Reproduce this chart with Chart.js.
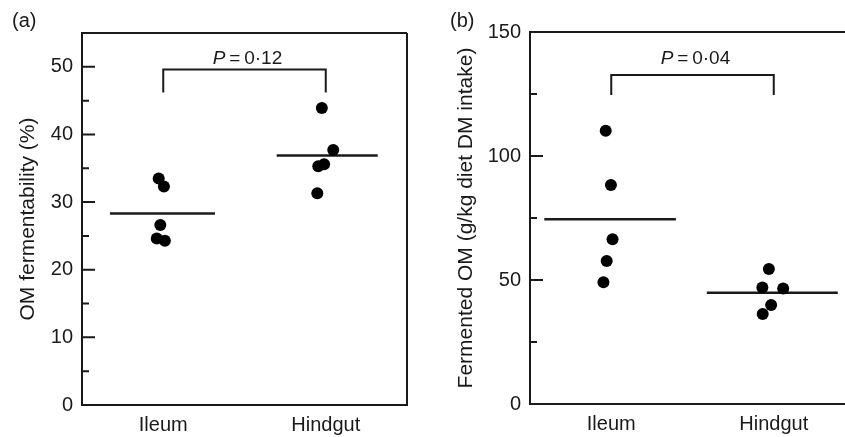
<!DOCTYPE html>
<html>
<head>
<meta charset="utf-8">
<script src="https://cdn.jsdelivr.net/npm/chart.js@4.4.1/dist/chart.umd.min.js"></script>
<style>
  html, body { margin: 0; padding: 0; background: #fff; overflow: hidden; }
  #wrap { position: relative; width: 845px; height: 437px; overflow: hidden; }
  canvas { position: absolute; top: 0; }
  #chartA { left: 0; }
  #chartB { left: 420px; }
</style>
</head>
<body>
<div id="wrap">
  <canvas id="chartA" width="420" height="437"></canvas>
  <canvas id="chartB" width="445" height="437"></canvas>
</div>
<script>
const categories = ["Ileum", "Hindgut"];
const categoryX = [0.25, 0.75];

// (a) OM fermentability (%)
const fermIleumX = [0.236, 0.252, 0.241, 0.230, 0.255];
const fermIleumY = [33.5, 32.3, 26.6, 24.6, 24.3];
const fermHindgutX = [0.738, 0.773, 0.727, 0.745, 0.724];
const fermHindgutY = [43.9, 37.7, 35.3, 35.6, 31.3];
const fermMeans = [28.3, 36.9];
const fermMeanSpan = [[0.086, 0.409], [0.599, 0.910]];
const fermBracket = [46.2, 49.6];
const fermP = "0·12";
const fermPY = 51.2;

// (b) Fermented OM (g/kg diet DM intake)
const omIleumX = [0.233, 0.249, 0.254, 0.236, 0.226];
const omIleumY = [110.2, 88.3, 66.4, 57.7, 49.1];
const omHindgutX = [0.735, 0.715, 0.779, 0.742, 0.716];
const omHindgutY = [54.4, 47.0, 46.6, 39.9, 36.3];
const omMeans = [74.5, 44.9];
const omMeanSpan = [[0.044, 0.449], [0.544, 0.947]];
const omBracket = [124.6, 132.7];
const omP = "0·04";
const omPY = 139.3;

const ink = "#1a1a1a";
const fontFamily = "'Liberation Sans', Arial, Helvetica, sans-serif";

// frame, inward ticks, P label and panel letter
const framePlugin = {
    id: "frame",
    afterDraw(chart, args, o) {
        const { ctx, chartArea: a, scales: { x, y } } = chart;
        ctx.save();
        ctx.strokeStyle = ink;
        ctx.lineWidth = 2;
        ctx.beginPath();
        ctx.moveTo(a.right, a.top);
        ctx.lineTo(a.left, a.top);
        ctx.lineTo(a.left, a.bottom);
        ctx.lineTo(a.right, a.bottom);
        ctx.lineTo(a.right, a.top);
        y.ticks.forEach(t => {
            if (t.value >= y.max || t.value <= y.min) return;
            const py = y.getPixelForValue(t.value);
            const len = t.value % o.major === 0 ? 13 : 7;
            ctx.moveTo(a.left, py);
            ctx.lineTo(a.left + len, py);
        });
        ctx.stroke();

        // P = value, centred over the bracket
        ctx.fillStyle = ink;
        ctx.textBaseline = "middle";
        const cx = x.getPixelForValue((categoryX[0] + categoryX[1]) / 2) + 3;
        const cy = y.getPixelForValue(o.pY);
        const italic = "italic 19px " + fontFamily;
        const normal = "19px " + fontFamily;
        const rest = "\u2009=\u2009" + o.pText;
        ctx.font = italic;
        const wP = ctx.measureText("P").width;
        ctx.font = normal;
        const wR = ctx.measureText(rest).width;
        const sx = cx - (wP + wR) / 2;
        ctx.textAlign = "left";
        ctx.font = italic;
        ctx.fillText("P", sx, cy);
        ctx.font = normal;
        ctx.fillText(rest, sx + wP, cy);

        // panel letter
        ctx.font = "20px " + fontFamily;
        ctx.fillText(o.letter, o.letterX, 21);
        ctx.restore();
    }
};

function scatterSet(xs, ys) {
    return {
        type: "scatter",
        data: xs.map((v, i) => ({ x: v, y: ys[i] })),
        pointRadius: 6,
        pointHoverRadius: 6,
        backgroundColor: "#000",
        borderColor: "#000",
        borderWidth: 0
    };
}

function lineSet(points, width) {
    return {
        type: "line",
        data: points,
        borderColor: ink,
        borderWidth: width,
        pointRadius: 0,
        fill: false,
        tension: 0
    };
}

function makePanel(id, p) {
    const datasets = [
        scatterSet(p.ileumX, p.ileumY),
        scatterSet(p.hindgutX, p.hindgutY),
        lineSet(p.meanSpan[0].map(v => ({ x: v, y: p.means[0] })), 2.5),
        lineSet(p.meanSpan[1].map(v => ({ x: v, y: p.means[1] })), 2.5),
        lineSet([
            { x: categoryX[0], y: p.bracket[0] },
            { x: categoryX[0], y: p.bracket[1] },
            { x: categoryX[1], y: p.bracket[1] },
            { x: categoryX[1], y: p.bracket[0] }
        ], 2)
    ];
    return new Chart(document.getElementById(id), {
        type: "scatter",
        data: { datasets },
        options: {
            responsive: false,
            animation: false,
            events: [],
            layout: { padding: p.padding },
            plugins: {
                legend: { display: false },
                tooltip: { enabled: false },
                frame: { major: p.major, pText: p.pText, pY: p.pY, letter: p.letter, letterX: p.letterX }
            },
            scales: {
                x: {
                    type: "linear",
                    min: 0,
                    max: 1,
                    grid: { display: false, drawTicks: false },
                    border: { display: false },
                    afterBuildTicks: s => { s.ticks = categoryX.map(v => ({ value: v })); },
                    afterFit: s => { s.height = p.xHeight; },
                    ticks: {
                        autoSkip: false,
                        maxRotation: 0,
                        padding: 8,
                        color: ink,
                        font: { size: 20, family: fontFamily },
                        callback: v => categories[categoryX.indexOf(v)]
                    }
                },
                y: {
                    min: 0,
                    max: p.yMax,
                    grid: { display: false, drawTicks: false },
                    border: { display: false },
                    afterFit: s => { s.width = p.yWidth; },
                    ticks: {
                        stepSize: p.step,
                        padding: 9,
                        color: ink,
                        font: { size: 20, family: fontFamily },
                        callback: v => (v % p.major === 0 ? v : "")
                    },
                    title: {
                        display: true,
                        text: p.title,
                        color: ink,
                        font: { size: 21, family: fontFamily },
                        padding: { top: p.titlePad, bottom: 0 }
                    }
                }
            }
        },
        plugins: [framePlugin]
    });
}

makePanel("chartA", {
    ileumX: fermIleumX, ileumY: fermIleumY,
    hindgutX: fermHindgutX, hindgutY: fermHindgutY,
    means: fermMeans, meanSpan: fermMeanSpan, bracket: fermBracket,
    pText: fermP, pY: fermPY,
    yMax: 55, step: 5, major: 10,
    title: "OM fermentability (%)", titlePad: 16,
    padding: { left: 0, top: 33, right: 13, bottom: 0 },
    yWidth: 82, xHeight: 32,
    letter: "(a)", letterX: 12
});

makePanel("chartB", {
    ileumX: omIleumX, ileumY: omIleumY,
    hindgutX: omHindgutX, hindgutY: omHindgutY,
    means: omMeans, meanSpan: omMeanSpan, bracket: omBracket,
    pText: omP, pY: omPY,
    yMax: 150, step: 25, major: 50,
    title: "Fermented OM (g/kg diet DM intake)", titlePad: 34,
    padding: { left: 0, top: 32, right: 10, bottom: 0 },
    yWidth: 110, xHeight: 33,
    letter: "(b)", letterX: 30
});
</script>
</body>
</html>
